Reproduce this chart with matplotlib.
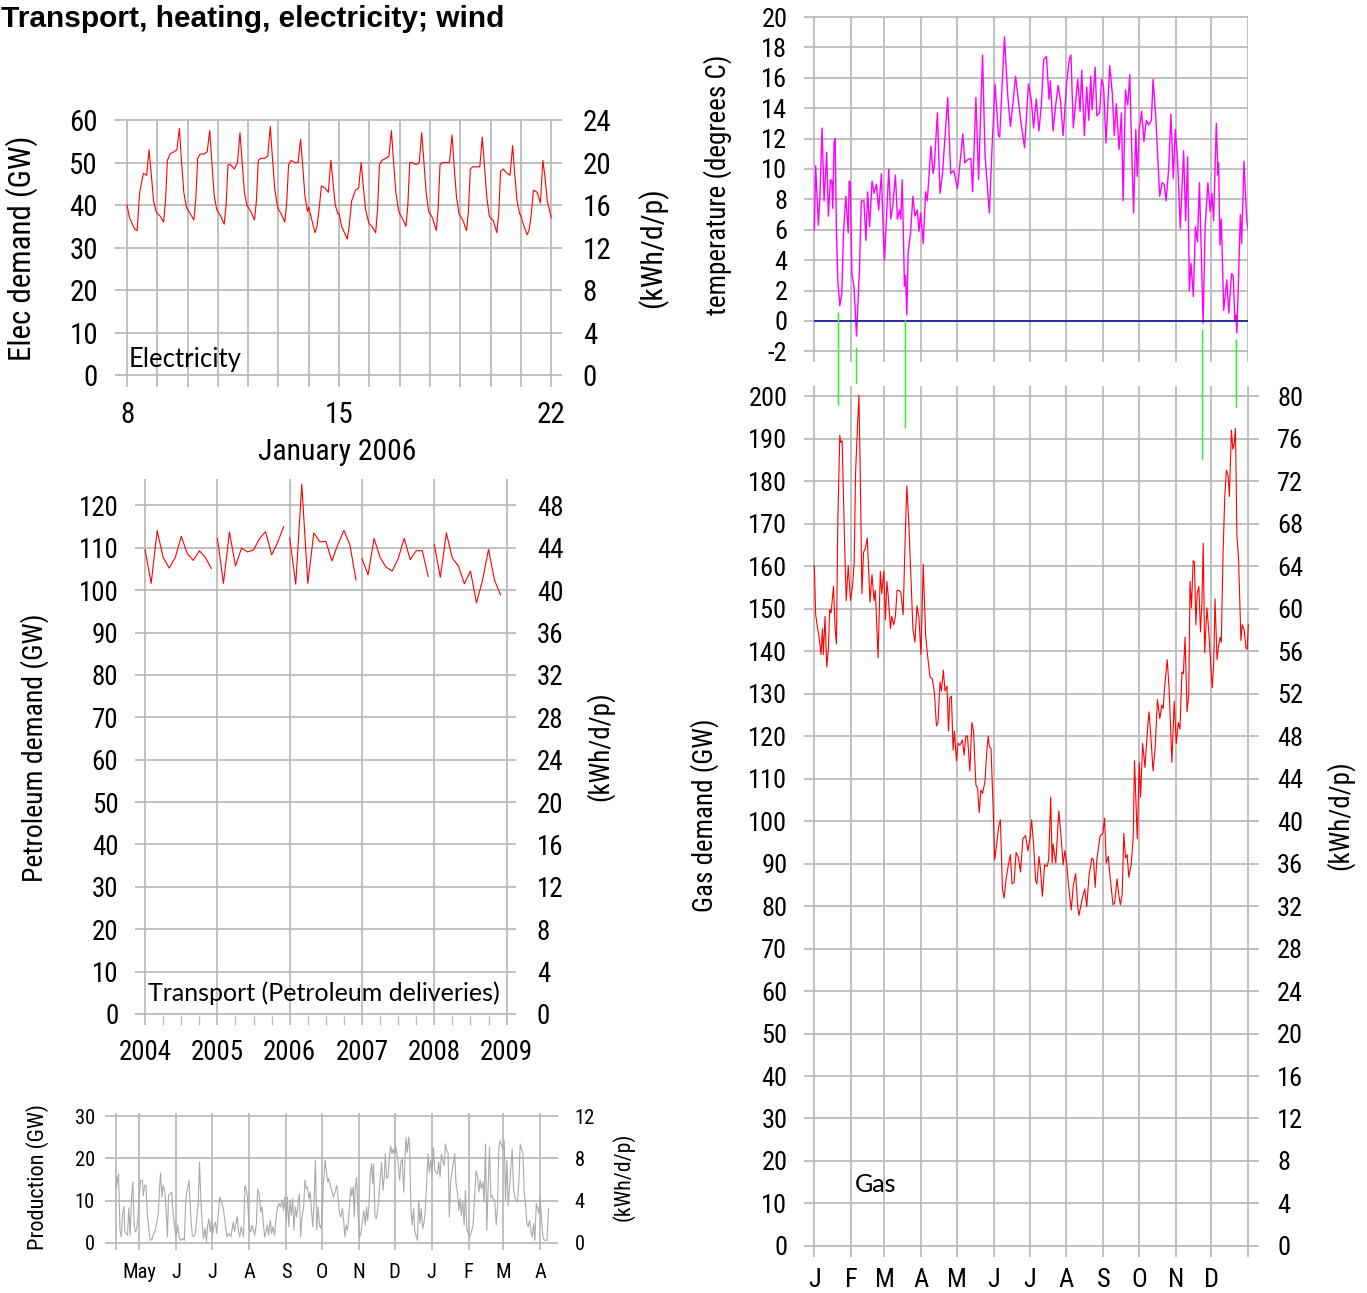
import matplotlib
matplotlib.use("Agg")
import matplotlib.pyplot as plt
from matplotlib import font_manager
from matplotlib.patches import ConnectionPatch

W, H = 1367, 1293

# ---------------- data ----------------
# electricity, Jan 2006: readings at these hours for each day 8..21
elec_days = list(range(8, 22))
elec_hours = [0, 2, 5, 6.5, 8, 10, 13, 15.5, 17.5, 19, 21, 23]
elec_gw = [
    [40, 37, 35, 34.2, 34, 43, 47.5, 47, 53, 48, 41, 38.5],
    [38, 37.5, 36, 41, 50.5, 52, 52.5, 53, 58, 51, 43, 39.5],
    [39, 38, 36.5, 41.5, 51, 52, 52, 52.5, 57.5, 51, 42.5, 39],
    [38.5, 37.5, 35.5, 40, 49.5, 49.5, 48.5, 50, 57, 51, 43, 40],
    [39.5, 38.5, 36.5, 41, 50.5, 51, 51, 51.5, 58.5, 52, 44, 40],
    [39, 38, 36, 40.5, 49.5, 50.5, 50, 50, 55.5, 50, 42, 38.5],
    [39.5, 37, 33.5, 35, 38.5, 44.5, 44, 43, 50.5, 46, 40, 38],
    [38, 35, 33, 32, 35, 41, 43.5, 44, 50, 45, 39, 36.5],
    [35.5, 35, 33.5, 39, 49.5, 50.5, 51, 51.5, 57.5, 51, 43, 39],
    [38, 37, 35, 40, 50, 50, 49.5, 50, 57, 51, 43, 38.5],
    [38, 37, 34, 39, 49.5, 50, 50, 50, 56.5, 50, 42, 38],
    [37.5, 36.5, 34, 38.5, 48.5, 49, 49, 49, 56, 50, 42, 37.5],
    [37, 36.5, 33.5, 38, 48, 48.5, 47.5, 47, 54, 48, 41, 38],
    [37.5, 35.5, 33, 34, 37, 43.5, 43, 40.5, 50.5, 47, 41, 38.5],
]
elec_end = 37.0

# petroleum deliveries, monthly
petrol_years = [2004, 2005, 2006, 2007, 2008]
petrol_gw = [
    [109.5, 101.6, 114.0, 107.7, 105.2, 107.7, 112.7, 108.6, 107.0, 109.3, 107.7, 105.1],
    [112.2, 101.6, 113.7, 105.7, 109.9, 109.0, 109.5, 112.2, 113.8, 108.3, 111.3, 115.0],
    [112.3, 101.4, 125.0, 101.6, 113.5, 111.4, 111.5, 106.9, 110.8, 114.1, 110.6, 102.4],
    [107.4, 103.6, 112.2, 107.7, 105.4, 104.5, 107.4, 112.2, 107.2, 109.3, 109.3, 103.2],
    [110.7, 103.0, 113.5, 107.5, 105.7, 101.5, 104.5, 97.0, 102.3, 109.6, 102.3, 98.9],
]

# wind production, days counted from 1 May
wind_day = [
    -19.9, -19.1, -18.3, -17.5, -16.3, -15.2, -14.1, -13.0, -12.2, -11.1, -10.0, -8.9, -7.8,
    -6.6, -5.5, -4.4, -3.3, -2.2, -1.1, 0, 1.1, 2.5, 3.3, 4.4, 5.5, 6.6, 8.0, 9.1, 10.5,
    11.9, 13.0, 14.4, 15.8, 16.9, 17.7, 18.8, 19.9, 21.3, 22.4, 23.5, 24.4, 25.8, 27.1,
    28.3, 29.4, 30.7, 32.1, 33.5, 34.9, 36.3, 37.7, 38.8, 40.2, 41.6, 42.9, 44.3, 45.7,
    47.1, 48.2, 49.3, 50.4, 51.5, 52.6, 53.7, 55.1, 56.2, 57.1, 58.2, 59.3, 60.4, 61.5,
    62.6, 63.7, 64.8, 66.2, 67.3, 68.7, 70.4, 72.0, 73.4, 74.8, 76.5, 77.6, 78.7, 79.8,
    80.9, 82.0, 83.1, 84.2, 85.3, 86.4, 87.3, 88.4, 89.5, 90.6, 92.0, 93.4, 94.5, 95.6,
    96.7, 98.1, 99.2, 100.3, 101.7, 102.8, 103.9, 105.0, 106.1, 107.2, 108.3, 109.7,
    110.8, 111.9, 113.3, 114.4, 115.8, 117.2, 118.3, 119.7, 120.8, 121.9, 123.0, 124.1,
    125.2, 126.3, 127.4, 128.5, 129.6, 130.7, 131.9, 133.0, 134.1, 135.2, 136.3, 137.7,
    138.8, 139.9, 141.0, 142.1, 143.2, 144.3, 145.4, 146.5, 147.6, 148.7, 149.9, 151.0,
    152.1, 153.2, 154.3, 155.7, 156.8, 157.9, 158.7,
    162.7, 164.1, 165.5, 166.7, 167.8, 168.9, 170.3, 171.1, 172.3, 173.4, 174.5, 175.9,
    177.3, 178.1, 179.3, 180.1, 181.0, 182.1, 183.2, 184.6, 185.7, 187.1, 188.2, 189.4,
    190.5, 191.3, 192.4, 193.6, 194.7, 195.5, 196.4, 197.5, 198.6, 199.7, 200.8, 202.0,
    203.1, 204.2, 205.3, 206.2, 207.3, 208.4, 209.5, 210.6, 211.8, 212.6, 213.7, 214.8,
    216.0, 217.1, 218.2, 219.3, 220.4, 221.6, 222.7, 223.5, 224.6, 225.8, 226.6, 227.7,
    228.8, 230.0, 230.8, 231.9, 233.1, 234.2, 235.3, 236.4, 237.5, 238.7, 239.8, 240.9,
    242.0, 243.1, 244.3, 245.4, 246.5, 247.6, 248.7, 249.9, 251.0, 252.1, 253.2, 254.3,
    255.5, 256.6, 257.7, 258.8, 259.9, 261.1, 262.2, 263.3, 264.4, 265.5, 266.7, 267.8,
    268.9, 270.0, 271.1, 272.3, 273.4, 274.5, 275.6, 277.0, 278.4, 279.8, 281.2, 282.3,
    283.5, 284.6, 285.7, 286.8, 288.0, 289.1, 290.2, 291.3, 292.4, 293.6, 294.7, 295.8,
    296.9, 298.0, 299.2, 300.3, 301.4, 302.5, 303.6, 304.8, 305.9, 307.0, 308.1, 309.2,
    310.4, 311.5, 312.6, 313.7, 314.8, 315.9, 317.1, 318.2, 319.3, 320.4, 321.6, 322.7,
    323.8, 324.9, 326.0, 327.2, 328.3, 329.4, 330.5, 331.6, 332.8, 333.9, 335.0, 336.1,
    337.3, 338.4, 339.5, 340.6, 341.7, 343.1,
]
wind_gw = [
    15.9, 13.2, 15.2, 16.3, 3.0, 1.4, 6.9, 8.6, 2.6, 2.2, 1.8, 8.3, 1.8,
    10.8, 14.4, 4.2, 2.6, 3.4, 6.5, 11.6, 14.8, 14.8, 11.2, 13.6, 13.6, 6.9, 3.0, 0.6, 0.8,
    2.2, 2.6, 4.6, 6.9, 13.2, 16.5, 10.8, 13.6, 12.0, 7.7, 1.4, 11.2, 11.6, 12.0,
    6.9, 4.2, 1.4, 4.2, 1.0, 0.6, 1.0, 0.6, 10.1, 12.8, 14.8, 6.9, 1.8, 1.4,
    2.6, 6.5, 9.3, 19.1, 10.1, 4.6, 1.0, 3.4, 0.2, 3.8, 5.7, 2.6, 5.3, 2.2,
    4.2, 4.9, 2.2, 6.9, 10.8, 9.7, 8.1, 4.6, 1.4, 2.2, 1.4, 3.0, 4.9, 2.6,
    4.6, 6.1, 2.6, 1.4, 3.8, 2.6, 1.4, 13.6, 12.8, 10.8, 3.4, 2.6, 4.2, 3.0,
    1.8, 4.6, 12.8, 11.6, 7.3, 8.5, 4.6, 1.4, 2.6, 4.2, 1.8, 5.3,
    2.2, 3.8, 1.8, 5.3, 8.5, 9.3, 8.5, 10.1, 7.7, 10.8, 5.3, 10.8,
    3.8, 10.1, 6.5, 10.4, 3.0, 8.5, 6.1, 9.3, 11.6, 1.4, 6.1, 8.5,
    14.8, 12.8, 13.2, 10.4, 12.0, 7.7, 3.8, 10.1, 19.5, 3.0, 8.5, 4.2,
    3.4, 6.1, 14.0, 19.5, 16.7, 14.4, 15.2,
    10.8, 12.0, 13.6, 10.4, 6.9, 6.1, 8.1, 5.7, 1.4, 4.2, 3.0, 7.7,
    13.0, 11.2, 13.2, 6.1, 13.2, 15.4, 7.7, 1.4, 2.2, 5.3, 7.7, 4.2,
    8.5, 5.3, 8.5, 16.7, 18.7, 14.0, 18.7, 6.5, 5.7, 7.7, 10.8, 15.6,
    19.1, 12.4, 15.6, 21.1, 15.2, 15.6, 19.9, 23.0, 21.1, 22.2, 21.1, 23.0,
    21.1, 18.3, 14.8, 19.1, 19.9, 12.0, 19.5, 25.0, 21.4, 25.0, 22.6, 7.7,
    4.2, 8.1, 3.0, 1.8, 0.6, 10.1, 4.6, 8.1, 3.4, 4.9, 8.1, 14.8,
    21.1, 16.7, 19.5, 16.3, 22.6, 17.1, 16.7, 16.3, 19.1, 15.6, 21.1, 19.5,
    18.3, 23.4, 21.8, 21.4, 6.1, 14.8, 17.1, 19.1, 21.1, 14.0, 12.0, 7.7,
    10.4, 6.5, 10.1, 4.2, 12.4, 3.4, 2.2, 1.4, 2.6, 4.2, 11.2, 17.1,
    15.6, 12.0, 14.8, 12.8, 14.4, 9.7, 23.4, 3.0, 13.2, 22.6, 10.8, 11.2,
    10.1, 10.1, 4.2, 8.5, 22.6, 24.2, 23.0, 22.2, 24.2, 10.1, 19.5, 8.9,
    13.2, 17.9, 22.2, 12.8, 10.8, 10.1, 9.7, 14.4, 23.4, 22.2, 21.4, 11.6,
    9.3, 4.6, 3.8, 5.3, 2.6, 1.4, 4.6, 0.6, 9.3, 8.1, 6.9, 10.8,
    5.3, 1.4, 0.6, 0.6, 0.6, 8.1,
]
wind_month_day = [-20, 0, 31, 61, 92, 123, 153, 184, 214, 245, 276, 305, 336]
wind_month_lab = ["", "May", "J", "J", "A", "S", "O", "N", "D", "J", "F", "M", "A"]

# temperature, day of year
temp_day = [
    0, 1.1, 3.4, 4.8, 6.5, 8.2, 10.4, 11.8, 13.5, 14.7, 15.5, 16.6, 17.5, 18.6, 19.7,
    21.4, 23.1, 24.5, 26.5, 28.5, 29.3, 30.2, 31.6, 33.3, 35.5, 36.7, 37.8, 39.5, 41.7,
    43.4, 44.8, 46.5, 48.5, 50.2, 52.2, 54.1, 56.4, 58.1, 59.0, 60.3, 62.6, 64.3, 66.0,
    68.2, 69.9, 71.6, 72.7, 73.9, 75.8, 76.7, 77.8, 78.9, 80.9, 82.9, 84.6, 86.6, 88.0,
    89.4, 91.6, 93.6, 95.0, 98.1, 99.8, 100.9, 103.5, 105.7, 107.7, 112.2, 114.7, 117.3,
    120.4, 124.9, 126.6, 128.8, 131.7, 133.1, 135.9, 138.1, 141.5, 143.5, 147.2, 149.4,
    152.0, 154.8, 155.9, 159.9, 162.7, 164.9, 166.9, 169.2, 171.7, 173.4, 176.8, 178.5,
    180.1, 182.4, 184.4, 186.7, 188.9, 190.9, 192.9, 195.2, 197.4, 198.5, 200.8, 203.1,
    205.1, 207.0, 209.3, 212.1, 214.4, 215.8, 217.8, 221.5, 223.5, 224.9, 227.1, 229.1,
    230.8, 232.5, 233.6, 236.2, 237.6, 239.9, 241.6, 243.3, 245.3, 248.4, 250.6, 252.3,
    254.0, 256.3, 258.3, 259.7, 261.7, 263.6, 265.3, 267.0, 268.5, 270.4, 271.6, 273.3,
    275.3, 277.2, 279.2, 281.2, 283.5, 284.9, 287.1, 290.5, 292.5, 294.2, 295.9, 298.2,
    299.9, 301.9, 303.6, 305.5, 307.8, 310.6, 312.3, 314.0, 315.4, 316.8, 318.8, 320.5,
    322.2, 323.9, 327.0, 328.7, 331.0, 333.0, 334.4, 335.8, 338.1, 339.5, 340.0, 341.2,
    342.3, 344.3, 346.9, 348.6, 350.9, 352.3, 353.7, 354.6, 355.4, 356.6, 358.3, 359.4,
    361.4, 363.7, 365.0,
]
temp_c = [
    6.0, 10.2, 6.3, 8.4, 12.7, 7.9, 11.1, 6.9, 9.3, 9.2, 7.4, 11.7, 12.0, 5.8, 2.7,
    1.0, 1.8, 5.8, 8.2, 5.8, 9.2, 9.1, 3.1, 2.3, -1.0, 1.2, 3.1, 7.9, 7.9,
    5.3, 8.5, 6.2, 9.2, 8.4, 9.0, 7.3, 9.7, 5.6, 4.0, 6.2, 10.0, 6.7, 7.6,
    9.6, 6.7, 7.3, 6.7, 9.3, 2.3, 3.0, 0.4, 4.5, 5.8, 8.2, 6.9, 7.3, 5.9,
    7.1, 5.1, 8.5, 7.9, 11.5, 9.7, 10.2, 13.7, 8.4, 9.6, 14.7, 9.7, 9.9,
    8.7, 12.3, 10.4, 10.6, 10.7, 8.5, 14.7, 9.3, 17.5, 11.0, 7.1, 11.3,
    15.6, 12.2, 12.1, 18.7, 14.8, 12.8, 14.2, 16.1, 14.5, 13.3, 11.4, 13.5,
    15.6, 14.6, 12.7, 14.6, 12.5, 14.2, 17.2, 17.4, 14.6, 15.8, 12.5, 14.3,
    15.5, 14.5, 12.2, 15.6, 17.2, 17.5, 12.7, 15.9, 13.8, 16.5, 12.2, 15.4,
    13.2, 16.1, 13.9, 16.7, 13.5, 13.7, 15.9, 15.4, 11.7, 16.8, 15.0, 12.2,
    14.3, 11.3, 13.7, 7.9, 15.2, 14.2, 16.2, 11.1, 7.1, 12.6, 9.5, 12.6,
    13.8, 11.8, 13.2, 12.9, 13.2, 15.9, 13.5, 8.2, 9.1, 9.0, 7.9, 10.2,
    13.6, 9.4, 12.6, 10.6, 6.1, 11.2, 6.6, 10.8, 2.0, 3.8, 1.6, 6.2,
    5.2, 9.1, -0.15, 6.2, 9.1, 7.2, 8.4, 6.6, 13.0, 9.6, 10.4, 5.0,
    6.7, 0.7, 2.7, 0.5, 3.1, 3.0, 0.1, 0.4, -0.8, 2.3, 7.0, 5.1,
    10.5, 6.6, 6.0,
]

# gas demand, day of year
gas_day = [
    0, 1.1, 2.8, 4.2, 5.6, 6.8, 7.6, 9.0, 10.4, 11.8, 12.9, 14.1, 16.1, 17.5, 18.6, 19.7,
    21.4, 22.3, 23.4, 25.4, 26.8, 28.5, 30.4, 32.1, 33.5, 34.7, 36.4, 37.5, 38.6, 40.0,
    41.4, 42.9, 44.5, 45.7, 46.8, 48.5, 50.2, 51.3, 52.5, 53.6, 55.5, 56.7, 58.4, 59.8,
    61.0, 62.0, 64.0, 65.1, 66.8, 68.2, 69.6, 71.0, 72.7, 74.7, 76.4, 77.8, 79.5, 81.5,
    82.9, 84.6, 86.3, 88.0, 89.7, 91.6, 93.6, 95.3, 97.3, 99.2, 101.0, 102.7, 104.0,
    105.7, 106.9, 108.5, 109.9, 111.6, 112.8, 113.9, 115.3, 116.7, 117.8, 119.5, 120.9,
    122.6, 124.6, 126.0, 127.4, 128.8, 130.8, 132.5, 133.9, 135.9, 137.3, 138.7, 140.1,
    141.5, 143.5, 145.2, 146.3, 147.2, 148.6, 150.5, 151.7, 153.4, 155.0, 156.5, 158.2,
    159.6, 161.3, 163.2, 164.9, 166.3, 168.0, 169.7, 171.7, 173.4, 175.4, 177.6, 179.6,
    181.3, 182.7, 184.4, 186.1, 187.2, 188.9, 190.1, 191.8, 193.7, 195.7, 197.1, 198.8,
    200.0, 200.8, 203.1, 205.6, 207.3, 209.3, 210.7, 212.1, 213.8, 216.1, 217.8, 219.8,
    221.5, 222.6, 225.1, 227.4, 229.1, 231.1, 233.4, 234.8, 236.2, 237.6, 240.4, 242.7,
    244.1, 245.5, 247.2, 248.9, 251.2, 252.6, 254.6, 256.0, 257.4, 258.9, 260.3, 261.7,
    263.1, 264.5, 266.5, 268.2, 269.3, 271.6, 273.3, 274.4, 276.1, 278.1, 280.1, 281.5,
    283.0, 284.9, 286.6, 288.6, 290.6, 292.2, 293.4, 294.8, 296.8, 298.5, 300.7, 302.7,
    304.4, 306.1, 307.5, 309.2, 310.4, 311.8, 313.5, 314.9, 316.0, 317.2, 318.6, 319.7,
    320.9, 322.0, 323.4, 324.8, 326.0, 327.1, 328.3, 330.2, 331.6, 332.8, 333.9, 334.7,
    335.9, 337.0, 338.7, 339.8, 341.3, 342.3, 343.8, 345.2, 346.6, 348.0, 349.1, 350.8,
    352.0, 353.1, 354.2, 355.4, 356.8, 358.8, 359.9, 361.6, 363.0, 364.1, 365.0,
]
gas_gw = [
    160.1, 148.6, 145.3, 142.9, 139.2, 145.3, 139.2, 148.2, 136.3, 140.4, 149.8, 149.0, 155.2, 145.3, 141.7, 169.9,
    190.8, 189.1, 189.5, 165.8, 151.9, 160.1, 151.9, 155.2, 160.9, 182.2, 193.6, 200.2, 182.2, 153.5,
    163.3, 164.2, 166.6, 159.2, 151.5, 158.0, 151.9, 154.3, 146.2, 138.4, 158.8, 153.5, 158.8, 147.4,
    156.4, 153.5, 145.3, 148.2, 146.2, 148.2, 154.3, 154.3, 153.9, 148.6, 166.6, 178.9, 169.9, 155.2,
    145.3, 142.1, 150.7, 147.8, 139.2, 160.5, 143.7, 138.8, 133.9, 133.5, 130.2, 122.4, 123.2,
    132.7, 130.6, 135.5, 130.6, 131.8, 121.2, 129.0, 129.4, 116.7, 121.2, 114.2, 118.3,
    117.9, 119.1, 115.5, 120.0, 120.0, 111.8, 123.2, 121.2, 108.5, 107.7, 102.0, 107.3,
    106.5, 109.3, 117.1, 120.0, 117.5, 117.1, 102.0, 90.9, 94.6, 98.7, 100.3, 84.0,
    81.9, 86.4, 89.7, 92.1, 85.2, 85.6, 92.6, 91.3, 88.0, 95.8, 96.6, 93.0,
    95.8, 100.3, 94.6, 86.0, 85.2, 91.7, 88.9, 82.3, 89.7, 89.3, 90.9, 105.6,
    90.1, 94.6, 90.1, 102.4, 97.1, 89.7, 93.0, 90.5, 84.8, 79.1, 84.8, 87.6,
    79.9, 77.8, 81.5, 84.0, 79.9, 87.3, 91.3, 90.9, 84.4, 90.9, 96.6, 97.1,
    100.7, 90.1, 91.7, 86.4, 80.3, 80.7, 86.4, 82.7, 80.3, 82.7, 97.1, 91.3,
    92.1, 86.8, 89.7, 96.2, 114.2, 95.8, 113.8, 105.6, 118.3, 112.6, 121.2, 125.7,
    120.0, 111.8, 117.1, 128.6, 124.1, 127.3, 126.5, 132.2, 138.0, 130.6, 113.8, 128.2,
    118.3, 123.2, 121.6, 135.1, 134.7, 143.3, 125.7, 129.8, 156.4, 150.2, 161.3, 160.9,
    146.2, 153.5, 155.2, 144.5, 151.5, 165.4, 139.6, 150.2, 145.3, 139.6, 134.7, 131.4,
    137.2, 152.3, 138.0, 140.8, 143.3, 142.1, 163.3, 176.4, 182.6, 181.3, 176.4, 192.0,
    187.5, 188.7, 192.4, 167.4, 161.7, 142.5, 146.2, 144.9, 140.8, 140.4, 146.2,
]
month_day = [0, 31, 59, 90, 120, 151, 181, 212, 243, 273, 304, 334, 365]
month_lab = ["J", "F", "M", "A", "M", "J", "J", "A", "S", "O", "N", "D", ""]

# cold days linking temperature dips to gas peaks
cold_day = [20.3, 35.5, 76.6, 326.5, 355.0]
cold_temp = [0.5, -1.8, 0.0, -0.6, -1.25]
cold_gas = [197.9, 203.0, 192.5, 185.0, 197.4]

# ---------------- style ----------------
installed = {f.name for f in font_manager.fontManager.ttflist}
if "Liberation Sans Narrow" in installed:
    TICKFONT, K = "Liberation Sans Narrow", 1.0
elif "Roboto Condensed" in installed:
    TICKFONT, K = "Roboto Condensed", 0.95
else:
    TICKFONT, K = "Liberation Sans", 0.82
plt.rcParams["font.family"] = [TICKFONT, "DejaVu Sans"]
plt.rcParams["axes.unicode_minus"] = False
NOTEFONT = ["Lato", "DejaVu Sans"]
GRID = "#bbbbbb"


def rect(x0, y0, x1, y1):
    return [x0 / W, 1 - y1 / H, (x1 - x0) / W, (y1 - y0) / H]


def px(x, y):
    return x / W, 1 - y / H


def style(ax, size, xpad, ypad):
    for s in ax.spines.values():
        s.set_visible(False)
    ax.grid(True, color=GRID, lw=1.3)
    ax.set_axisbelow(True)
    ax.tick_params(length=0, labelsize=size)
    ax.tick_params(axis="x", pad=xpad)
    ax.tick_params(axis="y", pad=ypad)


def kwh_axis(ax, ticks, size, pad):
    sec = ax.secondary_yaxis("right", functions=(lambda v: v * 0.4, lambda v: v / 0.4))
    sec.set_yticks(ticks)
    sec.spines["right"].set_visible(False)
    sec.tick_params(length=0, labelsize=size, pad=pad)
    return sec


def vlabel(x, y, s, size):
    fig.text(*px(x, y), s, rotation=90, ha="center", va="center", fontsize=size)


fig = plt.figure(figsize=(W / 100, H / 100), dpi=100)

fig.text(0.001, 1 - 5 / H, "Transport, heating, electricity; wind", fontsize=21.5,
         fontweight="bold", va="top", ha="left", family=["Liberation Sans", "DejaVu Sans"])

# ---- electricity ----
ax1 = fig.add_axes(rect(114.6, 119, 562, 387))
xs, ys = [], []
for d, row in zip(elec_days, elec_gw):
    for h, v in zip(elec_hours, row):
        xs.append(d + h / 24)
        ys.append(v)
xs.append(22)
ys.append(elec_end)
ax1.plot(xs, ys, color="red", lw=0.8)
ax1.set_xlim(7.59, 22.36)
ax1.set_ylim(-2.8, 60.25)
ax1.set_xticks(range(8, 23))
ax1.set_xticklabels([str(d) if d in (8, 15, 22) else "" for d in range(8, 23)])
ax1.set_yticks(range(0, 61, 10))
style(ax1, 22 * K, 10, 12)
kwh_axis(ax1, range(0, 25, 4), 22 * K, 15)
ax1.text(8.05, 1.9, "Electricity", family=NOTEFONT, fontsize=18.5, va="baseline")
fig.text(*px(337, 452), "January 2006", ha="center", va="center", fontsize=22.5 * K)
vlabel(22, 248, "Elec demand (GW)", 23.5 * K)
vlabel(653, 248, "(kWh/d/p)", 22.5 * K)

# ---- petroleum ----
ax2 = fig.add_axes(rect(135, 479.5, 516, 1025))
for yr, vals in zip(petrol_years, petrol_gw):
    ax2.plot([yr + m / 12 for m in range(12)], vals, color="red", lw=0.8)
ax2.set_xlim(2003.86, 2009.13)
ax2.set_ylim(-2.6, 126.1)
ax2.set_xticks(range(2004, 2010))
ax2.set_xticks([y + q / 4 for y in range(2004, 2009) for q in (1, 2, 3)], minor=True)
ax2.set_yticks(range(0, 121, 10))
style(ax2, 20.5 * K, 10, 12)
ax2.tick_params(axis="x", which="minor", direction="in", length=6.5, width=1, color=GRID)
kwh_axis(ax2, range(0, 49, 4), 20.5 * K, 15)
ax2.text(2004.04, 3.1, "Transport (Petroleum deliveries)", family=NOTEFONT, fontsize=18,
         va="baseline")
vlabel(35, 748, "Petroleum demand (GW)", 21 * K)
vlabel(600, 746, "(kWh/d/p)", 20.5 * K)

# ---- wind ----
ax3 = fig.add_axes(rect(104.6, 1112.7, 558, 1250))
ax3.plot(wind_day, wind_gw, color="#aaaaaa", lw=0.8)
ax3.set_xlim(-29.2, 351)
ax3.set_ylim(-1.7, 30.8)
ax3.set_xticks(wind_month_day)
ax3.set_xticklabels(wind_month_lab)
ax3.set_yticks(range(0, 31, 10))
style(ax3, 15.5 * K, 9, 7)
kwh_axis(ax3, range(0, 13, 4), 15.5 * K, 12)
vlabel(38, 1177, "Production (GW)", 17 * K)
vlabel(623, 1177, "(kWh/d/p)", 16.5 * K)

# ---- temperature ----
ax4 = fig.add_axes(rect(804, 15.5, 1248.3, 362))
ax4.plot(temp_day, temp_c, color="magenta", lw=1.0)
ax4.hlines(0, month_day[0], month_day[-1], color="#1414a0", lw=1.2)
ax4.set_xlim(-8.7, 365)
ax4.set_ylim(-2.7, 20.1)
ax4.set_xticks(month_day)
ax4.set_xticklabels([])
ax4.set_yticks(range(-2, 21, 2))
style(ax4, 20 * K, 8, 12)
vlabel(718, 185, "temperature (degrees C)", 20.5 * K)

# ---- gas ----
ax5 = fig.add_axes(rect(804, 386, 1259, 1257))
ax5.plot(gas_day, gas_gw, color="red", lw=0.8)
ax5.set_xlim(-8.7, 374)
ax5.set_ylim(-2.6, 202.4)
ax5.set_xticks(month_day)
ax5.set_xticklabels(month_lab)
ax5.set_yticks(range(0, 201, 10))
style(ax5, 20 * K, 8, 12)
kwh_axis(ax5, range(0, 81, 4), 20 * K, 13)
ax5.text(34, 12.7, "Gas", family=NOTEFONT, fontsize=18, va="baseline")
vlabel(705, 815, "Gas demand (GW)", 20.5 * K)
vlabel(1340, 815, "(kWh/d/p)", 20.5 * K)

for d, t, g in zip(cold_day, cold_temp, cold_gas):
    con = ConnectionPatch(xyA=(d, t), coordsA=ax4.transData, xyB=(d, g),
                          coordsB=ax5.transData, color="#33ee33", lw=1.1)
    fig.add_artist(con)

fig.savefig("out.png", dpi=100)
